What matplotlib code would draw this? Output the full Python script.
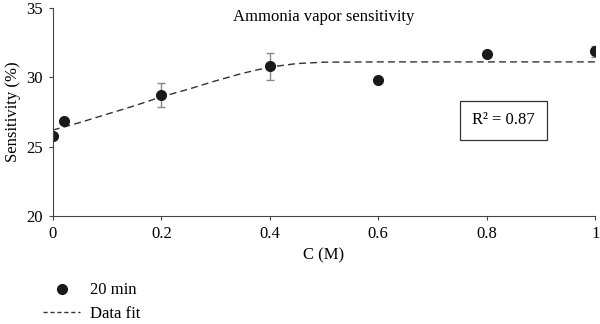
import matplotlib.pyplot as plt
from matplotlib.lines import Line2D

conc = [0.0, 0.02, 0.2, 0.4, 0.6, 0.8, 1.0]
sens = [25.75, 26.85, 28.75, 30.8, 29.85, 31.7, 31.9]
err = [0.0, 0.0, 0.85, 0.95, 0.0, 0.0, 0.4]

fit_x = [0.0, 0.05, 0.1, 0.15, 0.2, 0.25, 0.3, 0.35, 0.4, 0.45, 0.5, 0.6, 0.7, 0.8, 0.9, 1.0]
fit_y = [26.2, 26.75, 27.35, 27.95, 28.6, 29.15, 29.75, 30.3, 30.75, 31.0, 31.1, 31.12, 31.12, 31.12, 31.12, 31.12]

plt.rcParams['font.family'] = ['Liberation Serif', 'DejaVu Serif']
plt.rcParams['font.size'] = 12

fig = plt.figure(figsize=(6, 3.24), dpi=100)
ax = fig.add_axes([0.088, 0.333, 0.904, 0.642])

ax.plot(fit_x, fit_y, color="#333333", linestyle=(0, (5, 3)), linewidth=1.0)
ax.errorbar(conc, sens, yerr=err, fmt='none', ecolor="#888888", elinewidth=1, capsize=3)
ax.plot(conc, sens, 'o', color="#1a1a1a", markersize=7, linestyle='none')

ax.set_xlim(0, 1)
ax.set_ylim(20, 35)
ax.set_xticks([0, 0.2, 0.4, 0.6, 0.8, 1.0])
ax.set_xticklabels(["0", "0.2", "0.4", "0.6", "0.8", "1"])
ax.set_yticks([20, 25, 30, 35])
for s in ["top", "right"]:
    ax.spines[s].set_visible(False)
for s in ["left", "bottom"]:
    ax.spines[s].set_color("#444444")
ax.tick_params(direction='out', length=3, color="#444444", labelsize=12, pad=4)

ax.set_xlabel("C (M)", fontsize=12, labelpad=4)
ax.set_ylabel("Sensitivity (%)", fontsize=12, labelpad=4)
ax.text(0.5, 0.995, "Ammonia vapor sensitivity", transform=ax.transAxes,
        ha='center', va='top', fontsize=12)

ax.text(0.831, 0.46, "R² = 0.87", transform=ax.transAxes, ha='center', va='center',
        fontsize=12, bbox=dict(boxstyle='square,pad=0.7', fc='white', ec='#333333', lw=0.9))

handles = [Line2D([], [], marker='o', color="#1a1a1a", linestyle='none', markersize=7),
           Line2D([], [], color="#333333", linestyle=(0, (3, 2)), linewidth=1.0)]
fig.legend(handles, ["20 min", "Data fit"], loc='lower left', bbox_to_anchor=(0.047, -0.04),
           frameon=False, fontsize=12, handlelength=2.2, handletextpad=0.6, labelspacing=0.45)

fig.savefig("out.png", dpi=100)
